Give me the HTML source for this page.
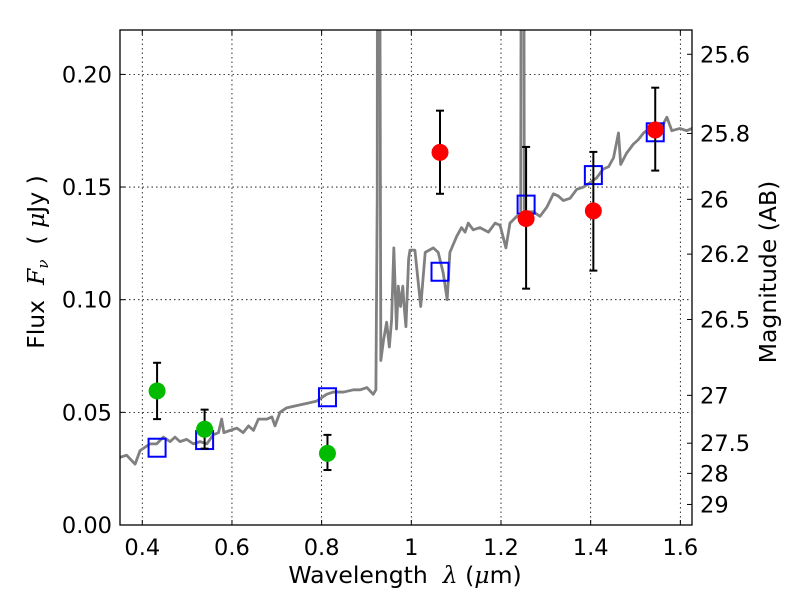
<!DOCTYPE html>
<html><head><meta charset="utf-8"><style>
body{margin:0;background:#fff}
svg{display:block;font-family:"DejaVu Sans","Liberation Sans",sans-serif}
</style></head><body>
<svg id="c" width="800" height="600"></svg>
<script>
const specW=[0.350,0.365,0.384,0.395,0.417,0.432,0.447,0.462,0.473,0.484,0.499,0.514,0.529,0.544,0.558,0.570,0.577,0.582,0.596,0.611,0.625,0.637,0.648,0.659,0.678,0.689,0.696,0.707,0.722,0.744,0.767,0.789,0.811,0.826,0.849,0.871,0.886,0.901,0.915,0.921,0.924,0.925,0.928,0.932,0.938,0.945,0.951,0.956,0.961,0.967,0.971,0.976,0.981,0.984,0.988,0.994,0.997,1.008,1.021,1.031,1.049,1.060,1.071,1.080,1.086,1.101,1.112,1.120,1.127,1.138,1.153,1.172,1.187,1.198,1.211,1.220,1.235,1.244,1.246,1.250,1.252,1.257,1.272,1.287,1.302,1.317,1.328,1.339,1.354,1.369,1.384,1.399,1.413,1.428,1.440,1.451,1.462,1.467,1.480,1.495,1.506,1.518,1.540,1.562,1.570,1.581,1.599,1.614,1.626];
const specF=[0.030,0.031,0.027,0.033,0.036,0.036,0.039,0.037,0.039,0.037,0.038,0.036,0.037,0.036,0.040,0.041,0.047,0.041,0.042,0.043,0.041,0.044,0.042,0.047,0.047,0.048,0.044,0.050,0.052,0.053,0.054,0.055,0.058,0.059,0.059,0.060,0.060,0.061,0.058,0.060,0.146,0.40,0.40,0.073,0.082,0.090,0.079,0.091,0.123,0.087,0.106,0.097,0.106,0.097,0.088,0.118,0.122,0.122,0.097,0.121,0.123,0.121,0.112,0.100,0.121,0.128,0.132,0.130,0.134,0.131,0.132,0.130,0.134,0.133,0.123,0.134,0.137,0.137,0.40,0.40,0.137,0.139,0.139,0.137,0.141,0.147,0.146,0.144,0.145,0.149,0.150,0.152,0.154,0.158,0.159,0.163,0.174,0.160,0.165,0.169,0.171,0.174,0.177,0.178,0.181,0.175,0.176,0.175,0.176];
const greenW=[0.433,0.539,0.813];
const greenF=[0.0595,0.0425,0.0318];
const greenLo=[0.047,0.0339,0.0244];
const greenHi=[0.072,0.0512,0.040];
const redW=[1.064,1.256,1.406,1.544];
const redF=[0.1654,0.136,0.1394,0.1753];
const redLo=[0.147,0.1049,0.1129,0.1573];
const redHi=[0.1839,0.1678,0.1656,0.1941];
const blueW=[0.433,0.539,0.813,1.064,1.256,1.406,1.544];
const blueF=[0.0343,0.0377,0.0567,0.1124,0.1422,0.1553,0.1743];
const xTicks=[0.4,0.6,0.8,1,1.2,1.4,1.6];
const xTickLabels=["0.4","0.6","0.8","1","1.2","1.4","1.6"];
const yTicks=[0,0.05,0.1,0.15,0.2];
const yTickLabels=["0.00","0.05","0.10","0.15","0.20"];
const magTicks=[25.6,25.8,26,26.2,26.5,27,27.5,28,29];
const magTickLabels=["25.6","25.8","26","26.2","26.5","27","27.5","28","29"];

const L=120,R=692,T=30,B=525,XMIN=0.3503,XMAX=1.626,YMIN=0,YMAX=0.2197;
const X=v=>L+(v-XMIN)/(XMAX-XMIN)*(R-L);
const Y=v=>B-(v-YMIN)/(YMAX-YMIN)*(B-T);
const NS="http://www.w3.org/2000/svg";
const svg=document.getElementById('c');
function mk(tag,attrs,parent){const e=document.createElementNS(NS,tag);for(const k in attrs)e.setAttribute(k,attrs[k]);(parent||svg).appendChild(e);return e;}
const defs=mk('defs',{});const cp=mk('clipPath',{id:'clip'},defs);mk('rect',{x:L,y:T,width:R-L,height:B-T},cp);

xTicks.forEach((t,i)=>{
  const g=mk('line',{x1:X(t),x2:X(t),y1:T,y2:B,stroke:'#000','stroke-width':0.8,'stroke-dasharray':'1.5,3'});
  
  
  mk('line',{x1:X(t),x2:X(t),y1:B,y2:B-5,stroke:'#000'});
  mk('line',{x1:X(t),x2:X(t),y1:T,y2:T+5,stroke:'#000'});
  const tx=mk('text',{x:X(t),y:B+30,'font-size':22.5,'text-anchor':'middle'});tx.textContent=xTickLabels[i];
  
  
});
yTicks.forEach((t,i)=>{
  const g=mk('line',{x1:L,x2:R,y1:Y(t),y2:Y(t),stroke:'#000','stroke-width':0.8,'stroke-dasharray':'1.5,3'});
  
  
  mk('line',{x1:L,x2:L+5,y1:Y(t),y2:Y(t),stroke:'#000'});
  const tx=mk('text',{x:L-8,y:Y(t)+8,'font-size':22.5,'text-anchor':'end'});tx.textContent=yTickLabels[i];
  
  
});
magTicks.forEach((m,i)=>{
  const f=Math.pow(10,(23.9-m)/2.5);
  mk('line',{x1:R,x2:R-5,y1:Y(f),y2:Y(f),stroke:'#000'});
  const tx=mk('text',{x:R+8,y:Y(f)+8,'font-size':22.5});tx.textContent=magTickLabels[i];
  
  
});

const sp=mk('polyline',{points:specW.map((w,i)=>X(w)+','+Y(specF[i])).join(' '),fill:'none',stroke:'#808080','stroke-width':2.8,'stroke-linejoin':'round','clip-path':'url(#clip)'});



function errbar(w,lo,hi,name){
  const g=mk('g',{stroke:'#000','stroke-width':2});
  
  
  mk('line',{x1:X(w),x2:X(w),y1:Y(lo),y2:Y(hi)},g);
  mk('line',{x1:X(w)-4,x2:X(w)+4,y1:Y(lo),y2:Y(lo)},g);
  mk('line',{x1:X(w)-4,x2:X(w)+4,y1:Y(hi),y2:Y(hi)},g);
}
blueW.forEach((w,i)=>{
  const r=mk('rect',{x:X(w)-8.5,y:Y(blueF[i])-9,width:17,height:18,fill:'none',stroke:'#0000ff','stroke-width':2});
  
  
});
greenW.forEach((w,i)=>{
  errbar(w,greenLo[i],greenHi[i],'green-error-bar');
  const c=mk('circle',{cx:X(w),cy:Y(greenF[i]),r:8.5,fill:'#00bb00'});
  
  
});
redW.forEach((w,i)=>{
  errbar(w,redLo[i],redHi[i],'red-error-bar');
  const c=mk('circle',{cx:X(w),cy:Y(redF[i]),r:8.5,fill:'#ff0000'});
  
  
});

const fr=mk('rect',{x:L,y:T,width:R-L,height:B-T,fill:'none',stroke:'#000','stroke-width':1.3});



const xl=mk('text',{x:405,y:583,'font-size':23.5,'text-anchor':'middle'});
xl.innerHTML='Wavelength &#160;<tspan font-style="italic" font-family="DejaVu Serif,serif">λ</tspan> (<tspan font-style="italic" font-family="DejaVu Serif,serif">μ</tspan>m)';


const yl=mk('text',{x:0,y:0,'font-size':23.5,'text-anchor':'middle',transform:'translate(44,262) rotate(-90)'});
yl.innerHTML='Flux &#160;<tspan font-style="italic" font-family="DejaVu Serif,serif">F</tspan><tspan font-style="italic" font-size="15" dy="4" font-family="DejaVu Serif,serif">ν</tspan><tspan dy="-4"> &#160;( </tspan><tspan font-style="italic" font-family="DejaVu Serif,serif">μ</tspan>Jy )';


const ml=mk('text',{x:0,y:0,'font-size':23.5,'text-anchor':'middle',transform:'translate(776,272) rotate(-90)'});
ml.textContent='Magnitude (AB)';


</script>
</body></html>
